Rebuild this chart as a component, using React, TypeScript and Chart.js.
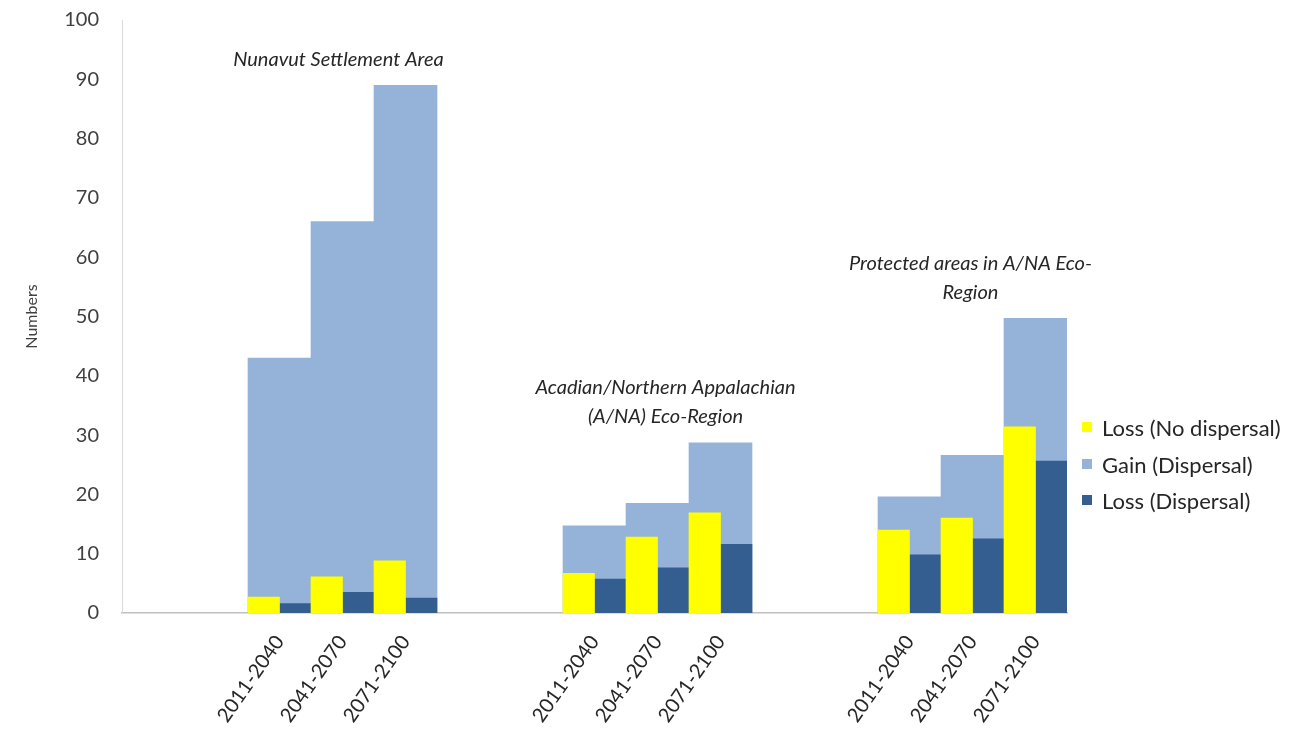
import React, { useEffect, useRef } from 'react';
import { Chart, registerables } from 'chart.js';

Chart.register(...registerables);

// ---- data ----
const periods = ['2011-2040', '2041-2070', '2071-2100'];
const regionTitles = [
  ['Nunavut Settlement Area'],
  ['Acadian/Northern Appalachian', '(A/NA) Eco-Region'],
  ['Protected areas in A/NA Eco-', 'Region'],
];
// per region, per period
const lossNoDispersal = [2.7, 6.1, 8.8, 6.7, 12.8, 16.9, 14, 16, 31.4];
const gainDispersal = [43, 66, 89, 14.7, 18.5, 28.7, 19.6, 26.6, 49.7];
const lossDispersal = [1.6, 3.5, 2.5, 5.7, 7.6, 11.6, 9.8, 12.5, 25.6];
const seriesNames = ['Loss (No dispersal)', 'Gain (Dispersal)', 'Loss (Dispersal)'];

const EMPTY_SLOTS = 2;
const COLORS = { yellow: '#FFFF00', gain: '#95B3D9', dark: '#355E90' };
const FONT = 'Lato, "Open Sans", sans-serif';

// build slot arrays (two empty category slots before each region)
const labels: string[] = [];
const slotOf: number[] = [];
regionTitles.forEach(() => {
  for (let i = 0; i < EMPTY_SLOTS; i++) labels.push('');
  periods.forEach((p) => {
    slotOf.push(labels.length);
    labels.push(p);
  });
});
const toSlots = (vals: number[]) => {
  const out: (number | null)[] = labels.map(() => null);
  vals.forEach((v, i) => (out[slotOf[i]] = v));
  return out;
};

const titlePlugin = {
  id: 'regionTitles',
  afterDatasetsDraw(chart: any) {
    const { ctx, scales } = chart;
    const xs = scales.x;
    const ys = scales.y;
    const xOffsets = [-4, 8, -2];
    ctx.save();
    ctx.font = `italic 20px ${FONT}`;
    ctx.fillStyle = '#262626';
    ctx.textAlign = 'center';
    ctx.textBaseline = 'middle';
    regionTitles.forEach((lines, g) => {
      const mid = slotOf[g * periods.length + 1];
      const maxVal = Math.max(...gainDispersal.slice(g * 3, g * 3 + 3));
      const x = xs.getPixelForValue(mid) + xOffsets[g];
      const lastY = ys.getPixelForValue(maxVal) - 26;
      lines.forEach((line, i) => {
        ctx.fillText(line, x, lastY - (lines.length - 1 - i) * 29);
      });
    });
    ctx.restore();
  },
};

export default function App() {
  const ref = useRef<HTMLCanvasElement | null>(null);
  useEffect(() => {
    if (!ref.current) return;
    const chart = new Chart(ref.current, {
      type: 'bar',
      data: {
        labels,
        datasets: [
          {
            label: seriesNames[0],
            data: toSlots(lossNoDispersal),
            backgroundColor: COLORS.yellow,
            barPercentage: 1,
            categoryPercentage: 1,
            order: 1,
          },
          {
            label: seriesNames[1],
            data: toSlots(gainDispersal),
            backgroundColor: COLORS.gain,
            grouped: false,
            barPercentage: 1,
            categoryPercentage: 1,
            order: 2,
          },
          {
            label: seriesNames[2],
            data: toSlots(lossDispersal),
            backgroundColor: COLORS.dark,
            barPercentage: 1,
            categoryPercentage: 1,
            order: 1,
          },
        ],
      },
      options: {
        animation: false,
        responsive: false,
        layout: { padding: { top: 20, right: 235, left: 0, bottom: 0 } },
        plugins: { legend: { display: false }, tooltip: { enabled: false } },
        scales: {
          x: {
            type: 'category',
            offset: true,
            grid: { display: false, drawTicks: false },
            border: { display: true, color: '#BFBFBF', width: 1.5 },
            ticks: {
              autoSkip: false,
              minRotation: 55,
              maxRotation: 55,
              padding: 18,
              color: '#262626',
              font: { family: FONT, size: 20 },
            },
            afterFit: (s: any) => {
              s.height = 120;
            },
          },
          y: {
            min: 0,
            max: 100,
            grid: { display: false, drawTicks: false },
            border: { display: true, color: '#D9D9D9', width: 1 },
            ticks: {
              stepSize: 10,
              padding: 23,
              color: '#404040',
              font: { family: FONT, size: 20 },
            },
            title: {
              display: true,
              text: 'Numbers',
              color: '#404040',
              font: { family: FONT, size: 16 },
              padding: { top: 22, bottom: 0 },
            },
            afterFit: (s: any) => {
              s.width = 122;
              s.paddingTop = 0;
              s.paddingBottom = 0;
            },
          },
        },
      },
      plugins: [titlePlugin],
    });
    return () => chart.destroy();
  }, []);

  const legendColors = [COLORS.yellow, COLORS.gain, COLORS.dark];
  const legendY = [427, 464, 500];

  return (
    <div style={{ position: 'fixed', left: 0, top: 0, width: 1302, height: 733, background: '#fff' }}>
      <canvas ref={ref} width={1302} height={733} style={{ display: 'block' }} />
      {seriesNames.map((name, i) => (
        <div
          key={name}
          style={{
            position: 'absolute',
            left: 1082,
            top: legendY[i] - 14,
            height: 28,
            display: 'flex',
            alignItems: 'center',
            fontFamily: FONT,
            fontSize: 22,
            color: '#262626',
            whiteSpace: 'nowrap',
          }}
        >
          <span style={{ display: 'inline-block', width: 10, height: 10, background: legendColors[i], marginRight: 10 }} />
          <span>{name}</span>
        </div>
      ))}
    </div>
  );
}
